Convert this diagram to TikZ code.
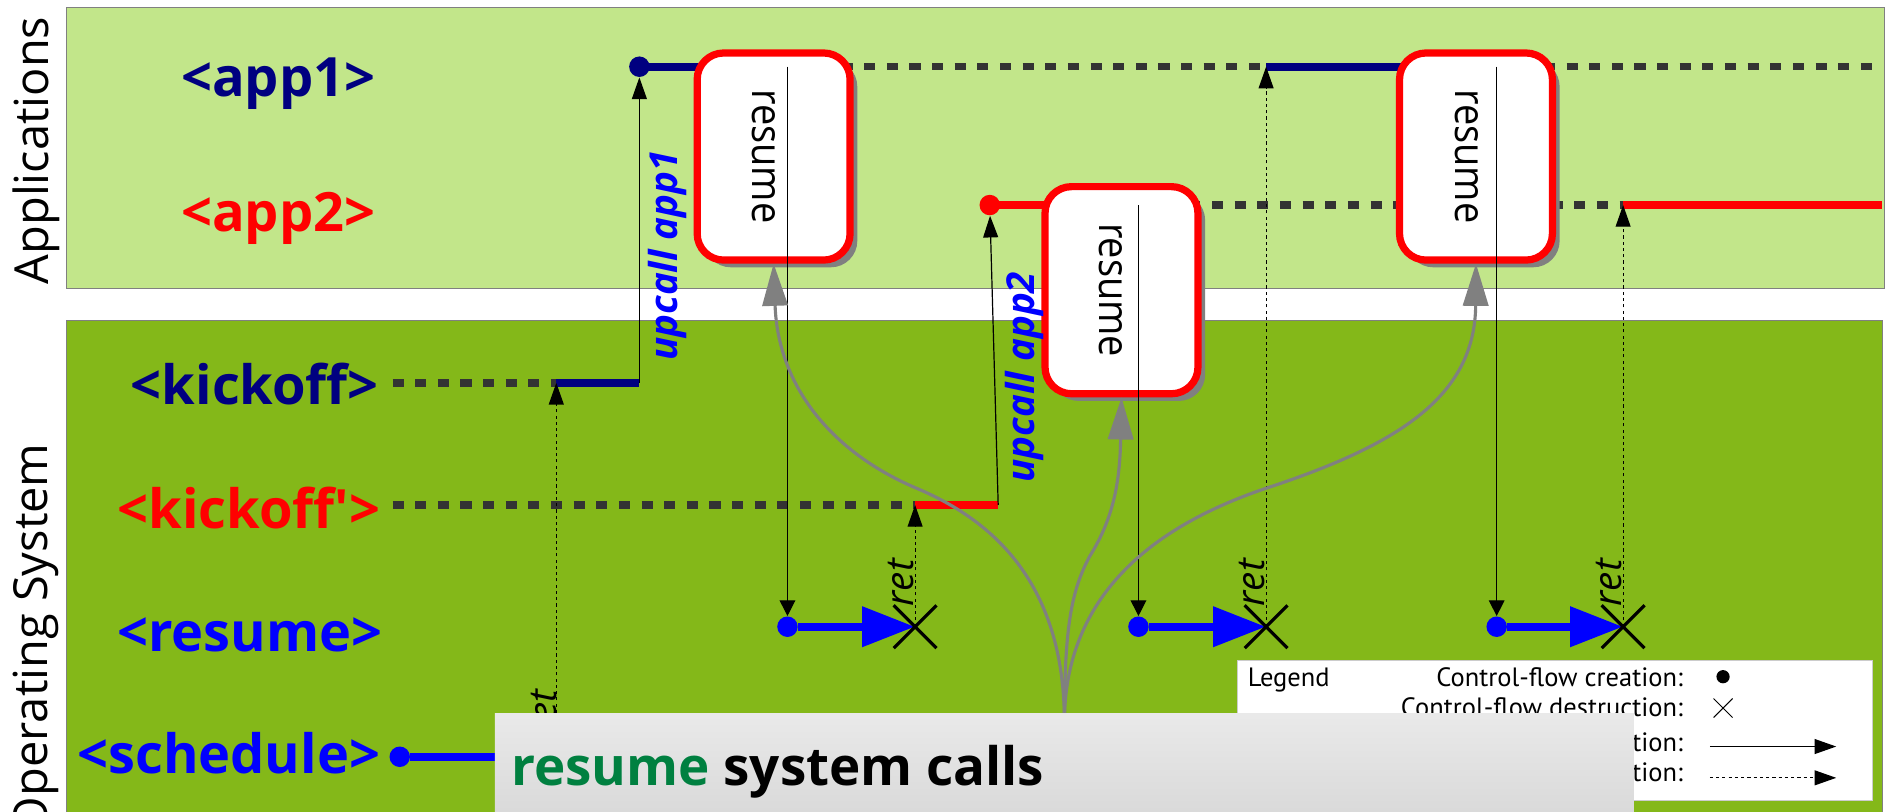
\documentclass[tikz,border=0pt]{standalone}
\usepackage{fontspec}
\setmainfont{Open Sans}
\newfontfamily\legendfont{PT Sans}
\usetikzlibrary{arrows.meta,shapes.misc,shadows,calc}

\definecolor{apptop}{RGB}{194,230,138}
\definecolor{osbot}{RGB}{132,184,25}
\definecolor{navyc}{RGB}{0,0,128}
\definecolor{dashc}{RGB}{51,51,51}
\definecolor{titlegreen}{RGB}{0,128,64}
\definecolor{shadowc}{RGB}{128,128,128}

\begin{document}
\begin{tikzpicture}[x=0.5pt,y=-0.5pt,
  panelA/.style={draw=shadowc,line width=0.4pt,fill=apptop},
  panelB/.style={draw=shadowc,line width=0.4pt,fill=osbot},
  sidetitle/.style={font=\fontsize{19.5}{24}\selectfont,rotate=90,inner sep=0pt},
  rowlabel/.style={font=\fontsize{22.5}{26}\selectfont\bfseries,anchor=base east,inner sep=0pt},
  flowdash/.style={draw=dashc,line width=3pt,dash pattern=on 4.6pt off 4.8pt},
  flowsolid/.style={line width=3.3pt},
  dotnode/.style={circle,fill,inner sep=0pt,minimum size=8.5pt},
  resumebox/.style={draw=red,line width=3pt,fill=white,rounded corners=11pt,
    minimum width=63.5pt,minimum height=86pt,inner sep=0pt,
    drop shadow={shadow xshift=3pt,shadow yshift=-3pt,fill=shadowc,opacity=1}},
  boxtext/.style={font=\fontsize{17.5}{20}\selectfont,rotate=-90,inner sep=0pt},
  callarrow/.style={line width=0.5pt,-{Triangle[length=9pt,width=6.2pt]}},
  retarrow/.style={line width=0.5pt,dash pattern=on 1.3pt off 1.3pt,-{Triangle[length=9pt,width=6.2pt]}},
  downarrow/.style={line width=0.5pt,-{Triangle[length=6.5pt,width=6.5pt]}},
  bluearrow/.style={blue,line width=3.5pt,-{Triangle[length=22pt,width=16pt]}},
  xcross/.style={cross out,draw=black,line width=1.3pt,minimum size=16.5pt,inner sep=0pt},
  fancurve/.style={draw=shadowc,line width=1.3pt,-{Triangle[length=17.5pt,width=10.5pt]}},
  upcalltxt/.style={text=blue,font=\fontsize{16}{19}\selectfont\bfseries\itshape,rotate=90,anchor=base west,inner sep=0pt},
  rettxt/.style={font=\fontsize{16}{19}\selectfont\itshape,rotate=90,anchor=base west,inner sep=0pt},
  legendtxt/.style={font=\legendfont\fontsize{11}{13}\selectfont,inner sep=0pt},
]
\useasboundingbox (0,0) rectangle (1568,674);
\clip (0,0) rectangle (1568,674);

% layer panels and their titles
\path[panelA] (55,6) rectangle (1565,240);
\path[panelB] (55,266.3) rectangle (1563,800);
\node[sidetitle] (apps) at (30,125) {Applications};
\node[sidetitle] (ossys) at (30,530) {Operating System};

% row labels
\node[rowlabel,text=navyc] (lapp1) at (312,80) {<app1>};
\node[rowlabel,text=red] (lapp2) at (312,192) {<app2>};
\node[rowlabel,text=navyc] (lkick1) at (315,336) {<kickoff>};
\node[rowlabel,text=red] (lkick2) at (316,439) {<kickoff\textquotesingle>};
\node[rowlabel,text=blue] (lres) at (318,541) {<resume>};
\node[rowlabel,text=blue] (lsched) at (316,642) {<schedule>};

% anchor points of the flows
\coordinate (k1a) at (326,318);
\coordinate (k1b) at (462,318);
\coordinate (k1c) at (531,318);
\coordinate (k2a) at (326,419.4);
\coordinate (k2b) at (760,419.4);
\coordinate (k2c) at (829,419.4);
\coordinate (a1end) at (1563,55.4);
\coordinate (a2end) at (1563,170.3);
\coordinate (rt2) at (1051.5,55.4);
\coordinate (rt3) at (1348,170.3);
\coordinate (fan) at (884,600);
\coordinate (c1) at (642.5,130);
\coordinate (c2) at (931.4,241);
\coordinate (c3) at (1225.8,130);
\coordinate (cx0) at (462,628.5);
\coordinate (cx1) at (760,520.5);
\coordinate (cx2) at (1051.5,520.5);
\coordinate (cx3) at (1348,520.5);

% creation dots
\node[dotnode,navyc] (d1) at (531,55.4) {};
\node[dotnode,red] (d2) at (822,170.3) {};
\node[dotnode,blue] (r1) at (654,520.5) {};
\node[dotnode,blue] (r2) at (945.5,520.5) {};
\node[dotnode,blue] (r3) at (1243,520.5) {};
\node[dotnode,blue] (sd) at (332,628.5) {};

% application flows
\draw[flowsolid,navyc] (d1.center) -- (c1 |- d1);
\draw[flowdash] (c1 |- d1) -- (rt2);
\draw[flowsolid,navyc] (rt2) -- (c3 |- d1);
\draw[flowdash] (c3 |- d1) -- (a1end);
\draw[flowsolid,red] (d2.center) -- (c2 |- d2);
\draw[flowdash] (c2 |- d2) -- (rt3);
\draw[flowsolid,red] (rt3) -- (a2end);

% kickoff flows and upcalls
\draw[flowdash] (k1a) -- (k1b);
\draw[flowsolid,navyc] (k1b) -- (k1c);
\draw[flowdash] (k2a) -- (k2b);
\draw[flowsolid,red] (k2b) -- (k2c);
\draw[callarrow] (k1c) -- (d1);
\draw[callarrow] (k2c) -- (d2);

% resume and schedule flows
\draw[bluearrow] (r1) -- (cx1);
\draw[bluearrow] (r2) -- (cx2);
\draw[bluearrow] (r3) -- (cx3);
\draw[bluearrow] (sd) -- (cx0);

% returns
\draw[retarrow] (cx0) -- (k1b);
\draw[retarrow] (cx1) -- (k2b);
\draw[retarrow] (cx2) -- (rt2);
\draw[retarrow] (cx3) -- (rt3);

% resume boxes
\node[resumebox] (box1) at (c1) {};
\node[resumebox] (box2) at (c2) {};
\node[resumebox] (box3) at (c3) {};
\node[boxtext] (t1) at ($(box1.center)+(-8,0)$) {\scalebox{0.9}[1]{resume}};
\node[boxtext] (t2) at ($(box2.center)+(-9,0)$) {\scalebox{0.9}[1]{resume}};
\node[boxtext] (t3) at ($(box3.center)+(-8,0)$) {\scalebox{0.9}[1]{resume}};

% resume calls down to the OS
\draw[downarrow] (r1 |- d1) -- (r1);
\draw[downarrow] (r2 |- d2) -- (r2);
\draw[downarrow] (r3 |- d1) -- (r3);

% system call fan
\draw[fancurve] (fan) .. controls (884,480) and (820,430) .. (760,405)
  .. controls (690,375) and (646,320) .. (box1.south);
\draw[fancurve] (fan) .. controls (884,520) and (890,490) .. (905,462)
  .. controls (925,430) and (930,400) .. (box2.south);
\draw[fancurve] (fan) .. controls (884,500) and (950,440) .. (1050,406)
  .. controls (1160,370) and (1225,330) .. (box3.south);

% destruction crosses
\node[xcross] (x0) at (cx0) {};
\node[xcross] (x1) at (cx1) {};
\node[xcross] (x2) at (cx2) {};
\node[xcross] (x3) at (cx3) {};

% labels
\node[upcalltxt] (up1) at (563,300) {upcall app1};
\node[upcalltxt] (up2) at (859,401) {upcall app2};
\node[rettxt] (ret0) at (462,612) {ret};
\node[rettxt] (ret1) at (759,504) {ret};
\node[rettxt] (ret2) at (1050.5,504) {ret};
\node[rettxt] (ret3) at (1347,504) {ret};

% legend
\node[draw=gray!40,fill=white,line width=0.4pt,minimum width=263.5pt,minimum height=58.15pt,inner sep=0pt] (legend) at (1291.5,606.85) {};
\node[legendtxt,anchor=base west] (lgt) at (1036,570) {Legend};
\node[legendtxt,anchor=base east] (lg1) at (1398,570) {Control-flow creation:};
\node[legendtxt,anchor=base east] (lg2) at (1398,595) {Control-flow destruction:};
\node[legendtxt,anchor=base east] (lg3) at (1398,624) {Synchronous transition:};
\node[legendtxt,anchor=base east] (lg4) at (1398,649) {Asynchronous transition:};
\node[circle,fill=black,inner sep=0pt,minimum size=5.5pt] (lgdot) at (1431,562) {};
\node[cross out,draw=black,line width=0.4pt,minimum size=7.5pt,inner sep=0pt] (lgx) at (1431,588) {};
\coordinate (lga3) at (1420,620);
\coordinate (lgb3) at (1525,620);
\coordinate (lga4) at (1420,646);
\coordinate (lgb4) at (1525,646);
\draw[callarrow] (lga3) -- (lgb3);
\draw[retarrow] (lga4) -- (lgb4);

% title banner
\node[top color=gray!17,bottom color=gray!30,minimum width=473pt,minimum height=43.75pt,inner sep=0pt] (banner) at (884,636) {};
\node[anchor=base west,font=\fontsize{22}{27}\selectfont\bfseries,inner sep=0pt] (bannertxt) at (424,652) {\textcolor{titlegreen}{resume} system calls};
\end{tikzpicture}
\end{document}
